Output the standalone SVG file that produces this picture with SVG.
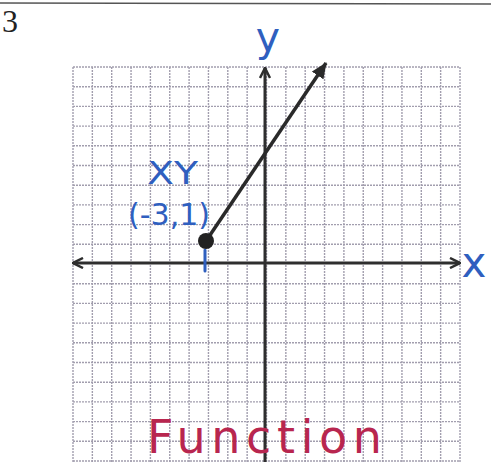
<svg xmlns="http://www.w3.org/2000/svg" width="491" height="462" viewBox="0 0 491 462">
<style>
.grid line{stroke:#a29eae;stroke-width:1.4;stroke-dasharray:2 1}
.axis{stroke:#2e2e2e;stroke-width:3;fill:none}
.blue{fill:#2f5fbf;font-family:"DejaVu Sans",sans-serif}
.red{fill:#b8264f;font-family:"DejaVu Sans",sans-serif}
</style>
<defs>
<marker id="chev" viewBox="0 0 12 12" refX="11" refY="6" markerWidth="12" markerHeight="12" markerUnits="userSpaceOnUse" orient="auto-start-reverse">
<polyline points="1,1 11,6 1,11" fill="none" stroke="#2e2e2e" stroke-width="2.5"/>
</marker>
<marker id="tri" viewBox="0 0 16 14" refX="15" refY="7" markerWidth="16" markerHeight="14" markerUnits="userSpaceOnUse" orient="auto">
<polygon points="0,0 16,7 0,14" fill="#2a2a2a"/>
</marker>
</defs>
<rect width="491" height="462" fill="#ffffff"/>
<line x1="0" y1="3" x2="491" y2="4" stroke="#555" stroke-width="1.5"/>
<text x="2" y="32" font-family="Liberation Serif,serif" font-size="32" fill="#222">3</text>
<g id="grid" class="grid">
<line x1="73" y1="67" x2="73" y2="462"/>
<line x1="92.35" y1="67" x2="92.35" y2="462"/>
<line x1="111.7" y1="67" x2="111.7" y2="462"/>
<line x1="131.05" y1="67" x2="131.05" y2="462"/>
<line x1="150.4" y1="67" x2="150.4" y2="462"/>
<line x1="169.75" y1="67" x2="169.75" y2="462"/>
<line x1="189.1" y1="67" x2="189.1" y2="462"/>
<line x1="208.45" y1="67" x2="208.45" y2="462"/>
<line x1="227.8" y1="67" x2="227.8" y2="462"/>
<line x1="247.15" y1="67" x2="247.15" y2="462"/>
<line x1="266.5" y1="67" x2="266.5" y2="462"/>
<line x1="285.85" y1="67" x2="285.85" y2="462"/>
<line x1="305.2" y1="67" x2="305.2" y2="462"/>
<line x1="324.55" y1="67" x2="324.55" y2="462"/>
<line x1="343.9" y1="67" x2="343.9" y2="462"/>
<line x1="363.25" y1="67" x2="363.25" y2="462"/>
<line x1="382.6" y1="67" x2="382.6" y2="462"/>
<line x1="401.95" y1="67" x2="401.95" y2="462"/>
<line x1="421.3" y1="67" x2="421.3" y2="462"/>
<line x1="440.65" y1="67" x2="440.65" y2="462"/>
<line x1="460" y1="67" x2="460" y2="462"/>
<line x1="73" y1="67" x2="460" y2="67"/>
<line x1="73" y1="86.7" x2="460" y2="86.7"/>
<line x1="73" y1="106.4" x2="460" y2="106.4"/>
<line x1="73" y1="126.1" x2="460" y2="126.1"/>
<line x1="73" y1="145.8" x2="460" y2="145.8"/>
<line x1="73" y1="165.5" x2="460" y2="165.5"/>
<line x1="73" y1="185.2" x2="460" y2="185.2"/>
<line x1="73" y1="204.9" x2="460" y2="204.9"/>
<line x1="73" y1="224.6" x2="460" y2="224.6"/>
<line x1="73" y1="244.3" x2="460" y2="244.3"/>
<line x1="73" y1="283.7" x2="460" y2="283.7"/>
<line x1="73" y1="303.4" x2="460" y2="303.4"/>
<line x1="73" y1="323.1" x2="460" y2="323.1"/>
<line x1="73" y1="342.8" x2="460" y2="342.8"/>
<line x1="73" y1="362.5" x2="460" y2="362.5"/>
<line x1="73" y1="382.2" x2="460" y2="382.2"/>
<line x1="73" y1="401.9" x2="460" y2="401.9"/>
<line x1="73" y1="421.6" x2="460" y2="421.6"/>
<line x1="73" y1="441.3" x2="460" y2="441.3"/>
<line x1="73" y1="461" x2="460" y2="461"/>
</g>
<g id="connectors">
<line class="axis" x1="73" y1="263" x2="460" y2="263" marker-start="url(#chev)" marker-end="url(#chev)"/>
<line class="axis" x1="265" y1="462" x2="265" y2="68" marker-end="url(#chev)"/>
<line x1="206" y1="241" x2="326" y2="63" stroke="#2a2a2a" stroke-width="3.5" marker-end="url(#tri)"/>
<line x1="205" y1="250" x2="205" y2="271" stroke="#2f5fbf" stroke-width="3" stroke-linecap="round"/>
</g>
<g id="point">
<circle cx="206" cy="241" r="8" fill="#222"/>
</g>
<g id="label-y"><text class="blue" x="268" y="51" font-size="41" text-anchor="middle">y</text></g>
<g id="label-x"><text class="blue" x="474" y="277" font-size="42" text-anchor="middle">x</text></g>
<g id="label-xy"><text class="blue" x="147" y="184" font-size="32" textLength="51" lengthAdjust="spacingAndGlyphs">XY</text></g>
<g id="label-point"><text class="blue" x="128" y="225" font-size="30" textLength="82" lengthAdjust="spacingAndGlyphs">(-3,1)</text></g>
<g id="label-function"><text class="red" x="147" y="453" font-size="46" textLength="235" lengthAdjust="spacing">Function</text></g>
</svg>
